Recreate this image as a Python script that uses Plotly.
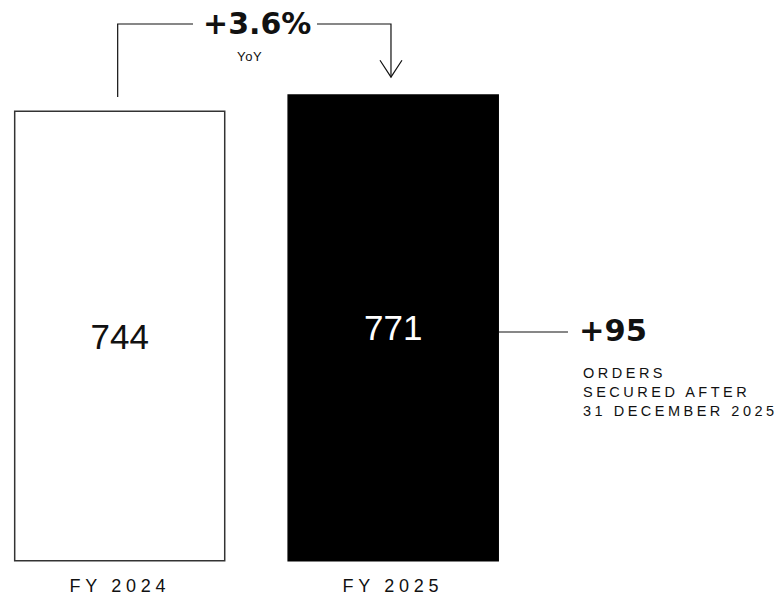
import json
import plotly.graph_objects as go

# --- data ---------------------------------------------------------------
categories = ["FY 2024", "FY 2025"]
values = [744, 771]
extra_orders = 95
extra_note = ["ORDERS", "SECURED AFTER", "31 DECEMBER 2025"]
growth_caption = "YoY"

FONT = "Liberation Sans, Arial, Helvetica, sans-serif"
HEAVY = "DejaVu Sans, Verdana, sans-serif"
INK = "#111111"

xs = list(range(len(categories)))
growth = (values[1] / values[0] - 1) * 100
growth_label = f"+{growth:.1f}%"

BAR_W = 0.768

fig = go.Figure()

fig.add_trace(go.Bar(
    x=xs, y=values, width=BAR_W,
    marker=dict(color=["white", "black"],
                line=dict(color=["#333333", "black"], width=1.5)),
    texttemplate="%{y}", textposition="inside", insidetextanchor="middle",
    textfont=dict(family=FONT, size=35, color=[INK, "white"]),
    hoverinfo="skip", showlegend=False,
))

# growth bracket from the first bar to the second
lvl = 888.6
left_x, right_x = xs[0] - 0.0074, xs[1] - 0.0081
line_style = dict(color="#111111", width=1.2)
fig.add_trace(go.Scatter(
    x=[left_x, left_x, 0.268], y=[values[0] + 23.7, lvl, lvl],
    mode="lines", line=line_style, hoverinfo="skip", showlegend=False))
fig.add_trace(go.Scatter(
    x=[0.7214, right_x, right_x], y=[lvl, lvl, values[1] + 29.5],
    mode="lines", line=line_style, hoverinfo="skip", showlegend=False))
# open arrow head
fig.add_trace(go.Scatter(
    x=[right_x - 0.0402, right_x, right_x + 0.0402],
    y=[values[1] + 57.6, values[1] + 29.5, values[1] + 57.6],
    mode="lines", line=line_style, hoverinfo="skip", showlegend=False))
# connector to the order-intake note
fig.add_trace(go.Scatter(
    x=[xs[1] + BAR_W / 2, 1.6391], y=[378.6, 378.6],
    mode="lines", line=line_style, hoverinfo="skip", showlegend=False))

annotations = []
tracking = {}

def add_note(text, x, y, size, xanchor="center", bold=False, spacing=0,
             align="center", family=FONT):
    if spacing:
        tracking[len(annotations)] = spacing
    annotations.append(dict(
        text=f"<b>{text}</b>" if bold else text,
        x=x, y=y, xref="x", yref="y", showarrow=False,
        xanchor=xanchor, yanchor="middle", align=align,
        font=dict(family=family, size=size, color=INK),
    ))

add_note(growth_label, 0.5038, lvl, 30, bold=True, family=HEAVY)
add_note(growth_caption, 0.4764, 834, 13, spacing=0.6)
add_note(f"+{extra_orders}", 1.672, 381, 30.5, xanchor="left", bold=True, family=HEAVY)
add_note("<br>".join(extra_note), 1.685, 280, 14.5, xanchor="left", spacing=3.5, align="left")
for x, cat in zip(xs, categories):
    add_note(cat, x, -42.7, 18, spacing=4.7)

fig.update_layout(
    width=779, height=598,
    margin=dict(l=0, r=0, t=0, b=0),
    paper_bgcolor="white", plot_bgcolor="white",
    xaxis=dict(range=[-0.4377, 2.4107], visible=False, fixedrange=True),
    yaxis=dict(range=[-61.75, 928.3], visible=False, fixedrange=True),
    annotations=annotations,
    font=dict(family=FONT, color=INK),
    bargap=0,
)

# widen the tracking of the spaced-out labels
post = """
var gd = document.getElementById('{plot_id}');
var tr = %s;
function applyTracking(){
  Object.keys(tr).forEach(function(i){
    var t = gd.querySelector('.annotation[data-index="' + i + '"] .annotation-text');
    if (t) { t.style.letterSpacing = tr[i] + 'px'; }
  });
}
applyTracking();
gd.on('plotly_afterplot', applyTracking);
""" % json.dumps(tracking)

fig.write_html("out.html", config={"displayModeBar": False, "staticPlot": True},
               post_script=post)
